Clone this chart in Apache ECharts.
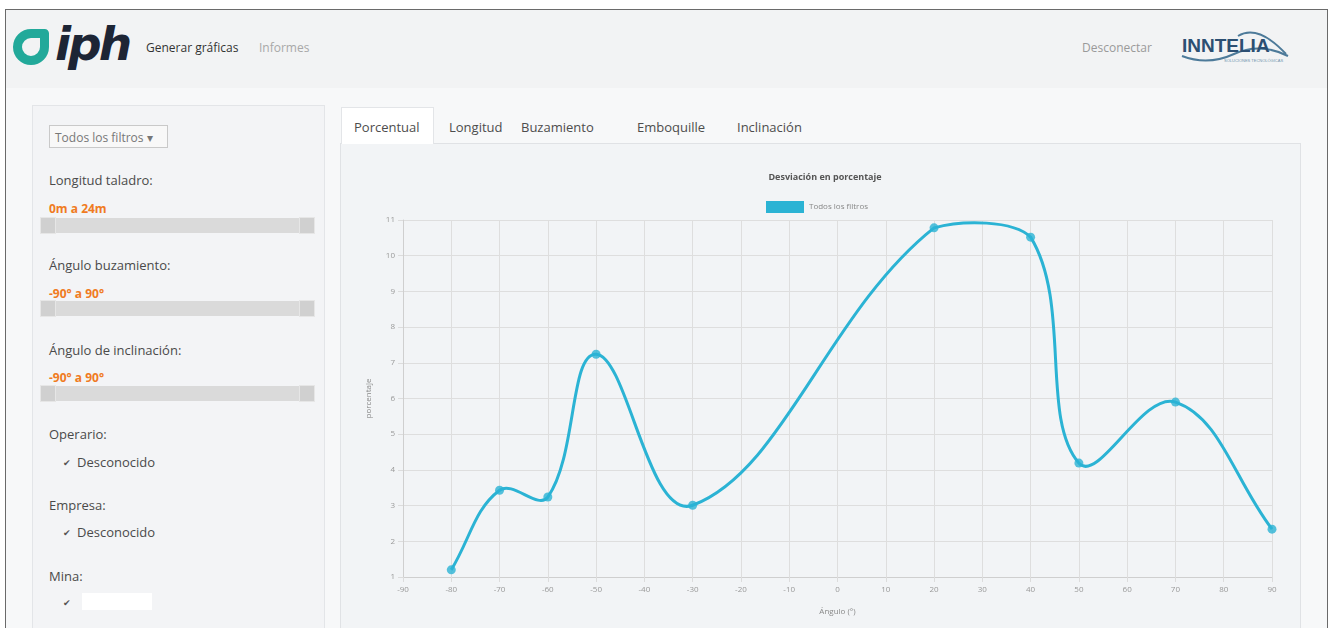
<!DOCTYPE html>
<html>
<head>
<meta charset="utf-8">
<script src="https://cdn.jsdelivr.net/npm/echarts@6/dist/echarts.min.js"></script>
<style>
  html,body{margin:0;padding:0;width:1335px;height:628px;overflow:hidden;background:#fff;font-family:"Open Sans","Noto Sans",sans-serif;}
  .abs{position:absolute;}
  #frame{left:5px;top:9px;width:1323px;height:640px;border:1px solid #6a6a6a;background:#f7f8f9;box-sizing:border-box;}
  #nav{left:6px;top:10px;width:1321px;height:78px;background:#f2f3f4;}
  .navtxt{font-size:12px;white-space:nowrap;}
  #side{left:32px;top:105px;width:293px;height:530px;background:#f3f4f6;border:1px solid #e3e5e8;box-sizing:border-box;}
  .lbl{font-size:13px;color:#4a4a4a;white-space:nowrap;}
  .org{font-size:12px;color:#f07b22;font-weight:bold;white-space:nowrap;}
  .track{height:15px;background:#dadada;left:40px;width:275px;}
  .handle{width:16px;height:17px;background:#d0d0d0;border:1px solid #e6e6e6;box-sizing:border-box;}
  .chk{font-size:9px;color:#555;}
  .tab{font-size:13px;color:#4d4d4d;white-space:nowrap;}
  #panel{left:340px;top:143px;width:961px;height:490px;background:#f2f4f6;border:1px solid #e0e2e5;box-sizing:border-box;}
  #chart{left:341px;top:144px;width:960px;height:484px;}
</style>
</head>
<body>
<div id="frame" class="abs"></div>
<div id="nav" class="abs"></div>
<div class="abs" style="left:13px;top:29px;width:36px;height:36px;box-sizing:border-box;border:9px solid #22a99a;border-radius:50% 12% 50% 50%;"></div>
<div class="abs" style="left:55px;top:16px;font-size:47px;font-weight:bold;font-style:italic;color:#1d2535;font-family:'DejaVu Sans','Noto Sans',sans-serif;letter-spacing:-3px;">iph</div>
<div class="abs navtxt" style="left:146px;top:39px;color:#333;">Generar gráficas</div>
<div class="abs navtxt" style="left:259px;top:39px;color:#a8a8a8;">Informes</div>
<div class="abs navtxt" style="left:1082px;top:39px;color:#9a9a9a;">Desconectar</div>
<svg class="abs" style="left:1178px;top:26px;" width="112" height="40" viewBox="0 0 112 40">
  <path d="M4 30 Q30 40 56 28 T110 30" stroke="#4d7a99" stroke-width="2" fill="none"/>
  <path d="M60 10 Q80 -2 108 28" stroke="#4d7a99" stroke-width="2" fill="none"/>
  <text x="4" y="26" font-family="Liberation Sans, sans-serif" font-weight="bold" font-size="19" fill="#2c4f72">INNTELIA</text>
  <text x="46" y="36" font-family="Liberation Sans, sans-serif" font-size="4" fill="#6e93ad">SOLUCIONES TECNOLÓGICAS</text>
</svg>

<div id="side" class="abs"></div>
<div class="abs" style="left:49px;top:125px;width:119px;height:23px;border:1px solid #c9c9c9;background:#f8f8f8;box-sizing:border-box;font-size:12px;color:#777;padding:3px 0 0 5px;white-space:nowrap;">Todos los filtros ▾</div>
<div class="abs lbl" style="left:49px;top:171px;">Longitud taladro:</div>
<div class="abs org" style="left:49px;top:200px;">0m a 24m</div>
<div class="abs track" style="top:218px;"></div>
<div class="abs handle" style="left:40px;top:217px;"></div>
<div class="abs handle" style="left:299px;top:217px;"></div>
<div class="abs lbl" style="left:49px;top:256px;">Ángulo buzamiento:</div>
<div class="abs org" style="left:49px;top:285px;">-90° a 90°</div>
<div class="abs track" style="top:301px;"></div>
<div class="abs handle" style="left:40px;top:300px;"></div>
<div class="abs handle" style="left:299px;top:300px;"></div>
<div class="abs lbl" style="left:49px;top:341px;">Ángulo de inclinación:</div>
<div class="abs org" style="left:49px;top:369px;">-90° a 90°</div>
<div class="abs track" style="top:386px;"></div>
<div class="abs handle" style="left:40px;top:385px;"></div>
<div class="abs handle" style="left:299px;top:385px;"></div>
<div class="abs lbl" style="left:49px;top:425px;">Operario:</div>
<div class="abs chk" style="left:63px;top:456px;">✔</div>
<div class="abs lbl" style="left:77px;top:453px;">Desconocido</div>
<div class="abs lbl" style="left:49px;top:496px;">Empresa:</div>
<div class="abs chk" style="left:63px;top:526px;">✔</div>
<div class="abs lbl" style="left:77px;top:523px;">Desconocido</div>
<div class="abs lbl" style="left:49px;top:567px;">Mina:</div>
<div class="abs chk" style="left:63px;top:596px;">✔</div>
<div class="abs" style="left:82px;top:593px;width:70px;height:17px;background:#fff;"></div>

<div id="panel" class="abs"></div>
<div class="abs" style="left:341px;top:107px;width:93px;height:37px;background:#fff;border:1px solid #e3e5e8;border-bottom:none;box-sizing:border-box;"></div>
<div class="abs tab" style="left:354px;top:118px;">Porcentual</div>
<div class="abs tab" style="left:449px;top:118px;">Longitud</div>
<div class="abs tab" style="left:521px;top:118px;">Buzamiento</div>
<div class="abs tab" style="left:637px;top:118px;">Emboquille</div>
<div class="abs tab" style="left:737px;top:118px;">Inclinación</div>

<div id="chart" class="abs"></div>
<script>
const angles = [-80, -70, -60, -50, -30, 20, 40, 50, 70, 90];
const values = [1.2, 3.43, 3.24, 7.24, 3.01, 10.78, 10.52, 4.19, 5.9, 2.34];
const seriesName = 'Todos los filtros';
const chartTitle = 'Desviación en porcentaje';
const xName = 'Ángulo (°)';
const yName = 'porcentaje';
const xMin = -90, xMax = 90, xStep = 10;
const yMin = 1, yMax = 11, yStep = 1;

const chart = echarts.init(document.getElementById('chart'));
const data = angles.map((a, i) => [a, values[i]]);
const lineColor = '#2bb3d4';
const tension = 0.4;

// Spline through pixel points from the axes; control points capped to the plot area
function splinePath(pts, area) {
  const n = pts.length;
  const cap = (p) => [
    Math.min(Math.max(p[0], area.x0), area.x1),
    Math.min(Math.max(p[1], area.y0), area.y1)
  ];
  const cps = pts.map((cur, i) => {
    const prev = pts[i > 0 ? i - 1 : 0];
    const next = pts[i < n - 1 ? i + 1 : n - 1];
    const d01 = Math.hypot(cur[0] - prev[0], cur[1] - prev[1]);
    const d12 = Math.hypot(next[0] - cur[0], next[1] - cur[1]);
    let s01 = d01 / (d01 + d12), s12 = d12 / (d01 + d12);
    if (!isFinite(s01)) s01 = 0;
    if (!isFinite(s12)) s12 = 0;
    const fa = tension * s01, fb = tension * s12;
    return {
      p: cap([cur[0] - fa * (next[0] - prev[0]), cur[1] - fa * (next[1] - prev[1])]),
      n: cap([cur[0] + fb * (next[0] - prev[0]), cur[1] + fb * (next[1] - prev[1])])
    };
  });
  let d = 'M' + pts[0][0] + ' ' + pts[0][1];
  for (let i = 1; i < n; i++) {
    d += ' C' + cps[i - 1].n[0] + ' ' + cps[i - 1].n[1] + ' ' + cps[i].p[0] + ' ' + cps[i].p[1] + ' ' + pts[i][0] + ' ' + pts[i][1];
  }
  return d;
}

chart.setOption({
  animation: false,
  textStyle: {fontFamily: 'Open Sans, Noto Sans, sans-serif'},
  title: {
    text: chartTitle, left: 479, top: 24, textAlign: 'center',
    textStyle: {fontSize: 9, fontWeight: 'bold', color: '#555'}
  },
  legend: {
    data: [seriesName], left: 420, top: 52, icon: 'rect', itemWidth: 38, itemHeight: 12, itemGap: 6,
    textStyle: {fontSize: 8, color: '#888'}
  },
  grid: {left: 62, right: 29, top: 76, bottom: 51},
  xAxis: {
    type: 'value', min: xMin, max: xMax, interval: xStep,
    name: xName, nameLocation: 'middle', nameGap: 31,
    nameTextStyle: {fontSize: 8, color: '#888'},
    axisLine: {onZero: false, lineStyle: {color: '#cfcfcf'}},
    axisTick: {show: true, length: 5, lineStyle: {color: '#dcdcdc'}},
    axisLabel: {fontSize: 8, color: '#999', margin: 9},
    splitLine: {show: true, lineStyle: {color: '#dedede'}}
  },
  yAxis: {
    type: 'value', min: yMin, max: yMax, interval: yStep,
    name: yName, nameLocation: 'middle', nameRotate: 90, nameGap: 30,
    nameTextStyle: {fontSize: 8, color: '#888'},
    axisLine: {show: true, onZero: false, lineStyle: {color: '#cfcfcf'}},
    axisTick: {show: true, length: 5, lineStyle: {color: '#dcdcdc'}},
    axisLabel: {fontSize: 8, color: '#999', margin: 8},
    splitLine: {show: true, lineStyle: {color: '#dedede'}}
  },
  series: [{
    name: seriesName, type: 'custom', data: data,
    itemStyle: {color: lineColor},
    clip: false,
    renderItem: function (params, api) {
      if (params.dataIndex !== 0) return null;
      const pts = data.map(d => api.coord(d));
      const tl = api.coord([xMin, yMax]), br = api.coord([xMax, yMin]);
      const area = {x0: tl[0], y0: tl[1], x1: br[0], y1: br[1]};
      return {
        type: 'path',
        shape: {pathData: splinePath(pts, area)},
        style: {stroke: lineColor, lineWidth: 3, fill: 'none'}
      };
    }
  }, {
    name: 'puntos', type: 'scatter', data: data,
    symbol: 'circle', symbolSize: 9,
    itemStyle: {color: lineColor}
  }]
});
</script>
</body>
</html>
